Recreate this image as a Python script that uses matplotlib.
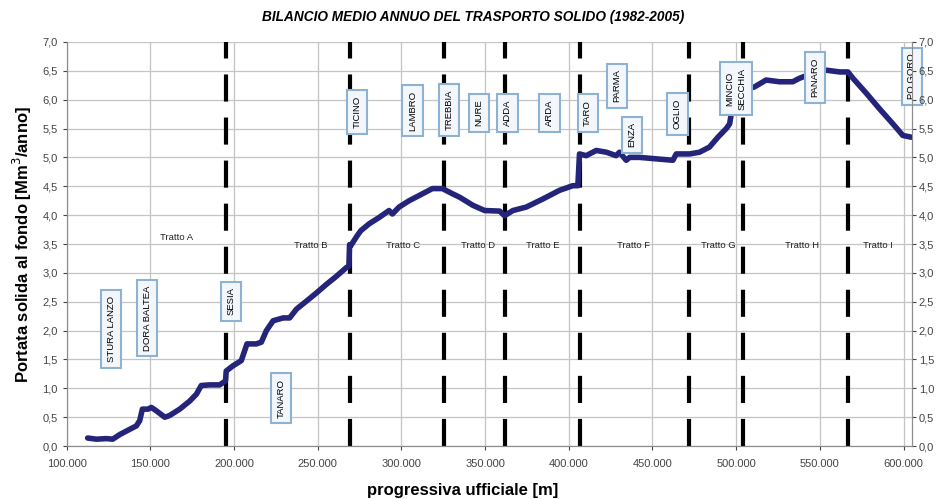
import matplotlib
matplotlib.use("Agg")
import matplotlib.pyplot as plt
from matplotlib.ticker import FuncFormatter, MultipleLocator

plt.rcParams['font.family'] = ['Liberation Sans', 'DejaVu Sans']
plt.rcParams['lines.scale_dashes'] = False

# Curve: progressiva (m) vs portata solida (Mm3/anno)
progressiva = [112500, 117700, 123700, 127500, 131700, 137600, 141600, 143600, 145200, 148600,
               150600, 153600, 158600, 161500, 167500, 173500, 177500, 180400, 185400, 191400,
               194900, 195300, 199300, 204300, 206300, 207700, 213300, 216300, 219300, 223300,
               229300, 233200, 237200, 243200, 249100, 255100, 261100, 267000, 268600, 269000,
               269700, 273700, 275700, 280700, 286700, 292600, 294600, 298600, 304600, 310600,
               318500, 324500, 330500, 334800, 342700, 349700, 358700, 361600, 366600, 374600,
               384500, 394500, 402400, 405400, 406400, 410400, 416400, 422400, 428300, 430300,
               434300, 436300, 442300, 450200, 462200, 464200, 472200, 478100, 484100, 489100,
               494100, 496100, 497100, 500000, 505000, 510900, 517900, 525900, 533800, 537800,
               545000, 553900, 561800, 566800, 569800, 577800, 585700, 593700, 599600, 604600]
portata = [0.14, 0.12, 0.13, 0.12, 0.20, 0.29, 0.35, 0.44, 0.64, 0.64,
           0.67, 0.61, 0.50, 0.53, 0.64, 0.78, 0.90, 1.05, 1.06, 1.06,
           1.13, 1.30, 1.39, 1.48, 1.65, 1.77, 1.77, 1.80, 2.00, 2.17,
           2.22, 2.22, 2.37, 2.51, 2.65, 2.80, 2.94, 3.09, 3.12, 3.49,
           3.47, 3.65, 3.73, 3.85, 3.96, 4.08, 4.02, 4.14, 4.25, 4.34,
           4.46, 4.46, 4.37, 4.31, 4.17, 4.08, 4.07, 3.99, 4.08, 4.14,
           4.28, 4.43, 4.51, 4.51, 5.06, 5.03, 5.12, 5.09, 5.03, 5.09,
           4.95, 5.00, 5.00, 4.98, 4.95, 5.06, 5.06, 5.09, 5.18, 5.35,
           5.50, 5.58, 5.76, 6.00, 6.18, 6.22, 6.34, 6.31, 6.31, 6.37,
           6.45, 6.51, 6.48, 6.48, 6.37, 6.11, 5.84, 5.58, 5.38, 5.35]

# Section boundaries (dashed lines)
confini = [195000, 269000, 325200, 362000, 406400, 471600, 503800, 567100]

# Tratti labels
tratti = ['Tratto A', 'Tratto B', 'Tratto C', 'Tratto D', 'Tratto E',
          'Tratto F', 'Tratto G', 'Tratto H', 'Tratto I']
tratti_x = [165700, 246000, 301100, 345900, 384300, 438600, 489400, 539200, 585000]
tratti_y = [3.61, 3.48, 3.48, 3.48, 3.48, 3.48, 3.48, 3.48, 3.48]

# Tributaries
affluenti = ['STURA LANZO', 'DORA BALTEA', 'SESIA', 'TANARO', 'TICINO', 'LAMBRO', 'TREBBIA',
             'NURE', 'ADDA', 'ARDA', 'TARO', 'PARMA', 'ENZA', 'OGLIO', 'MINCIO\nSECCHIA',
             'PANARO', 'PO GORO']
affluenti_x = [126500, 148000, 198200, 228200, 273500, 306600, 328500, 346200, 363400,
               388500, 411300, 428700, 437600, 464900, 499900, 547200, 605000]
affluenti_y = [2.03, 2.22, 2.51, 0.83, 5.79, 5.81, 5.82, 5.77, 5.77,
               5.77, 5.77, 6.24, 5.39, 5.75, 6.19, 6.38, 6.40]

fig = plt.figure(figsize=(9.37, 4.99), dpi=100)
ax = fig.add_axes([0.0712, 0.106, 0.902, 0.810])

ax.set_xlim(100000, 605000)
ax.set_ylim(0, 7)
ax.xaxis.set_major_locator(MultipleLocator(50000))
ax.yaxis.set_major_locator(MultipleLocator(0.5))
ax.xaxis.set_major_formatter(FuncFormatter(lambda v, p: f"{int(v):,}".replace(",", ".")))
ax.yaxis.set_major_formatter(FuncFormatter(lambda v, p: f"{v:.1f}".replace(".", ",")))
ax.grid(True, color='#c4c4c4', linewidth=0.9)
ax.set_axisbelow(True)

for s in ['left', 'bottom', 'right']:
    ax.spines[s].set_color('#8c8c8c')
ax.spines['top'].set_visible(False)
ax.tick_params(axis='both', labelsize=8, colors='#444444', length=3, width=0.8)
ax.tick_params(axis='x', pad=6)

# Dashed section lines
for xc in confini:
    ax.axvline(xc, color='black', linewidth=3.0, linestyle=(0, (19.5, 11.5)), zorder=2)

ax.plot(progressiva, portata, color='#24247a', linewidth=4.0, solid_joinstyle='round',
        solid_capstyle='round', zorder=3)

for t, x, y in zip(tratti, tratti_x, tratti_y):
    ax.text(x, y, t, fontsize=6.8, ha='center', va='center', color='#222222', zorder=4)

for t, x, y in zip(affluenti, affluenti_x, affluenti_y):
    ax.text(x, y, t, fontsize=6.8, rotation=90, ha='center', va='center', color='black',
            linespacing=1.5, clip_on=False, zorder=5,
            bbox=dict(boxstyle='square,pad=0.6', facecolor='#f3f7fb', edgecolor='#8eb2d4',
                      linewidth=1.5))

ax2 = ax.twinx()
ax2.set_ylim(0, 7)
ax2.yaxis.set_major_locator(MultipleLocator(0.5))
ax2.yaxis.set_major_formatter(FuncFormatter(lambda v, p: f"{v:.1f}".replace(".", ",")))
ax2.tick_params(axis='y', labelsize=8, colors='#444444', length=3, width=0.8, pad=2)
for s in ['left', 'bottom', 'right']:
    ax2.spines[s].set_color('#8c8c8c')
ax2.spines['top'].set_visible(False)

ax.set_xlabel('progressiva ufficiale [m]', fontsize=12, fontweight='bold')
ax.xaxis.set_label_coords(0.468, -0.092)
ax.set_ylabel('Portata solida al fondo [Mm$^{3}$/anno]', fontsize=12, fontweight='bold',
              labelpad=6)
fig.text(0.505, 0.965, 'BILANCIO MEDIO ANNUO DEL TRASPORTO SOLIDO (1982-2005)', fontsize=9.8,
         fontweight='bold', fontstyle='italic', ha='center', va='center')

fig.savefig('out.png', dpi=100)
